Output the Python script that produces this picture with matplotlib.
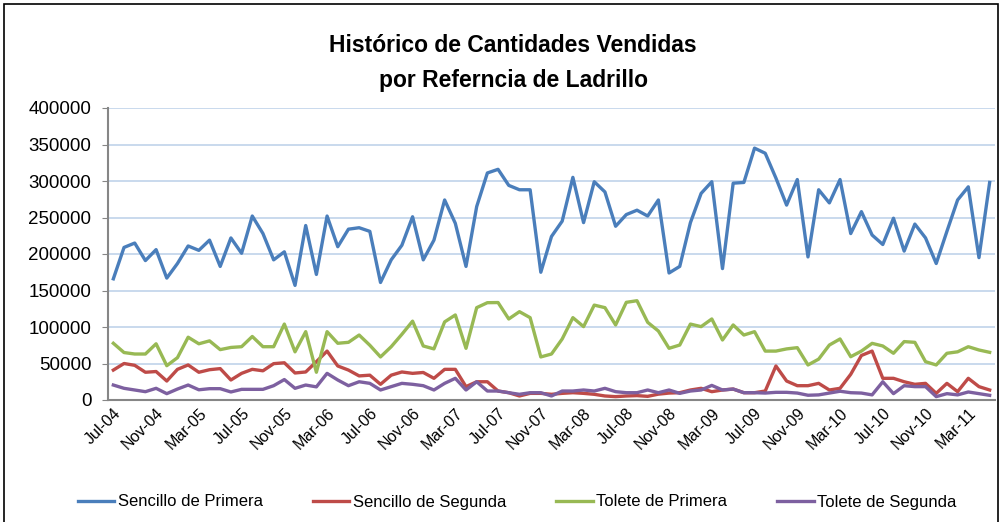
import matplotlib
matplotlib.use("Agg")
from matplotlib import pyplot as plt
from matplotlib.patches import Rectangle

# monthly sales, Jul-04 .. May-11
sencillo_primera = [166000, 209000, 215000, 191000, 206000, 167000, 187000, 211000, 205000, 219000,
                    183000, 222000, 201000, 252000, 228000, 192000, 203000, 157000, 239000, 172000,
                    252000, 210000, 234000, 236000, 231000, 161000, 192000, 212000, 251000, 192000,
                    219000, 274000, 242000, 183000, 265000, 311000, 316000, 294000, 288000, 288000,
                    175000, 224000, 245000, 305000, 243000, 299000, 285000, 238000, 254000, 260000,
                    252000, 274000, 174000, 183000, 243000, 283000, 299000, 180000, 297000, 298000,
                    345000, 338000, 304000, 267000, 302000, 196000, 288000, 270000, 302000, 228000,
                    258000, 226000, 213000, 249000, 204000, 241000, 222000, 187000, 231000, 274000,
                    292000, 195000, 298000]
sencillo_segunda = [41000, 50000, 47500, 38000, 39000, 26000, 42000, 48000, 38000, 41500,
                    43000, 27400, 36500, 42000, 40000, 49800, 51000, 37000, 38400, 52500,
                    67000, 46600, 41000, 33000, 34000, 21500, 34000, 38400, 36500, 37700,
                    29700, 42000, 42000, 18300, 25000, 25000, 12300, 10000, 5500, 9100,
                    9100, 7800, 9100, 10000, 9100, 7800, 5500, 4600, 5500, 6000,
                    5000, 8000, 9500, 10000, 13700, 16000, 11400, 13700, 15000, 10000,
                    10000, 12300, 46600, 26000, 19600, 19600, 22800, 13700, 16000, 35200,
                    61000, 67000, 29700, 29700, 25000, 21500, 22800, 9100, 22800, 11400,
                    29700, 18300, 13700]
tolete_primera = [77700, 65000, 63000, 63000, 77000, 47000, 58000, 86000, 77000, 81000,
                  69000, 72000, 73000, 87000, 73000, 73000, 104000, 66000, 93600, 38000,
                  93600, 77700, 79000, 89000, 75000, 59000, 73000, 90000, 108000, 74000,
                  70000, 107000, 116500, 70800, 126500, 133300, 133500, 111000, 121000, 112800,
                  59000, 63000, 83600, 112800, 100500, 130000, 126500, 102800, 133800, 136000,
                  106400, 94500, 70800, 75300, 104000, 100500, 111000, 82200, 102800, 89000,
                  93600, 67000, 67000, 70000, 71700, 48000, 56000, 75300, 83600, 59300,
                  67000, 77600, 74000, 64000, 80000, 79000, 52500, 48000, 64000, 66000,
                  73000, 68500, 65300]
tolete_segunda = [20500, 16000, 13700, 11400, 16000, 8700, 15000, 20500, 14000, 15500,
                  15500, 11000, 14600, 14600, 14600, 19600, 28000, 16000, 20500, 18000,
                  36500, 27400, 19600, 25000, 22800, 13700, 18300, 22800, 21500, 19600,
                  13700, 22800, 29700, 13700, 25000, 12300, 12300, 10000, 7800, 10000,
                  10000, 5500, 12300, 12300, 13700, 12300, 16000, 11400, 10000, 10000,
                  13700, 10000, 13700, 9100, 12300, 13700, 20000, 13700, 15000, 10000,
                  10000, 9500, 10500, 10500, 9500, 6500, 7000, 9500, 12000, 10000,
                  9500, 7000, 25000, 8700, 19600, 18300, 18300, 4600, 8700, 7000,
                  11000, 8700, 6400]
tick_labels = ["Jul-04", "Nov-04", "Mar-05", "Jul-05", "Nov-05", "Mar-06", "Jul-06", "Nov-06",
               "Mar-07", "Jul-07", "Nov-07", "Mar-08", "Jul-08", "Nov-08", "Mar-09", "Jul-09",
               "Nov-09", "Mar-10", "Jul-10", "Nov-10", "Mar-11"]

plt.rcParams['font.family'] = ['Liberation Sans', 'DejaVu Sans']

fig = plt.figure(figsize=(10.02, 5.22), dpi=100)
ax = fig.add_axes([108/1002, 1 - 400/522, (995 - 108)/1002, (400 - 108)/522])

x = range(len(sencillo_primera))
ax.plot(x, sencillo_primera, color='#4A7EBB', lw=2.4, label='Sencillo de Primera')
ax.plot(x, sencillo_segunda, color='#BE4B48', lw=2.4, label='Sencillo de Segunda')
ax.plot(x, tolete_primera, color='#98B954', lw=2.4, label='Tolete de Primera')
ax.plot(x, tolete_segunda, color='#7D60A0', lw=2.4, label='Tolete de Segunda')

ax.set_xlim(-0.5, len(sencillo_primera) - 0.5)
ax.set_ylim(0, 400000)
ax.set_yticks(range(0, 400001, 50000))
ax.set_yticklabels([str(v) for v in range(0, 400001, 50000)], fontsize=13.5)
ax.set_xticks(range(0, 4 * len(tick_labels), 4))
ax.set_xticklabels(tick_labels, rotation=45, ha='right', rotation_mode='anchor', fontsize=11.5)
ax.grid(axis='y', color='#c0d3ea', lw=1.2)
ax.set_axisbelow(True)
for s in ['top', 'right']:
    ax.spines[s].set_visible(False)
ax.spines['left'].set_color('#868686')
ax.spines['bottom'].set_color('#868686')
ax.spines['left'].set_linewidth(1.5)
ax.spines['bottom'].set_linewidth(1.5)
ax.tick_params(axis='y', colors='#868686', labelcolor='black', length=4, pad=8)
ax.tick_params(axis='x', length=0, pad=4)

fig.text(0.512, 1 - 45/522, 'Histórico de Cantidades Vendidas', ha='center', va='center',
         fontsize=16.5, fontweight='bold')
fig.text(0.512, 1 - 80/522, 'por Referncia de Ladrillo', ha='center', va='center',
         fontsize=16.5, fontweight='bold')

fig.legend(loc='center', bbox_to_anchor=(0.516, 1 - 502/522), ncol=4, frameon=False,
           fontsize=12, handlelength=2.2, columnspacing=3.0, handletextpad=0.2)

fig.patches.append(Rectangle((4/1002, -0.05), 994/1002, 1.05 - 4/522, transform=fig.transFigure,
                             fill=False, edgecolor='black', lw=1.2))

fig.savefig('out.png', dpi=100)
